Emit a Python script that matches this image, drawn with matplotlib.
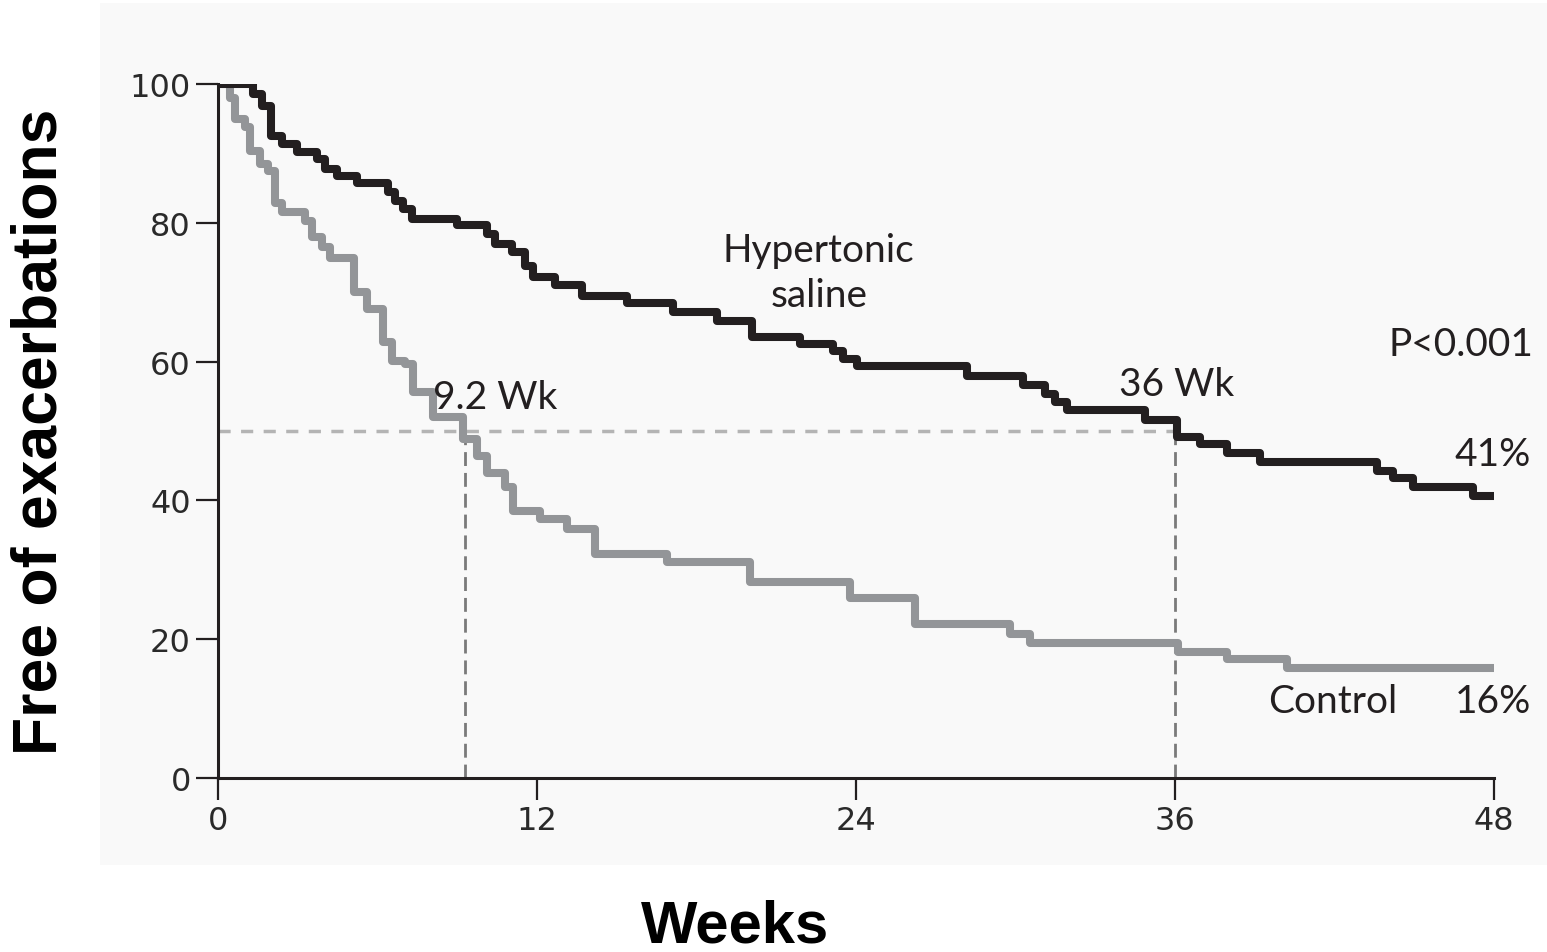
"""Kaplan-Meier style curve: time free of exacerbations, hypertonic saline vs control."""

import matplotlib
matplotlib.use("Agg")
import matplotlib.pyplot as plt
from matplotlib.patches import Rectangle

# step times (weeks) and survival (%) after each step
saline_weeks = [0, 1.32, 1.66, 1.99, 2.41, 2.97, 3.72, 4.03, 4.48, 5.23, 6.40, 6.66,
                6.96, 7.30, 8.99, 10.12, 10.42, 11.06, 11.55, 11.85, 12.68, 13.69,
                15.39, 17.12, 18.77, 20.09, 21.89, 23.13, 23.51, 24.04, 28.18, 30.28,
                31.11, 31.49, 31.94, 34.87, 36.08, 36.94, 37.96, 39.20, 43.60, 44.20,
                44.95, 47.21, 48]
saline_pct = [100, 98.6, 96.9, 92.5, 91.4, 90.2, 89.2, 87.8, 86.8, 85.8, 84.4, 83.2,
              82.0, 80.5, 79.7, 78.4, 76.9, 75.8, 73.8, 72.2, 71.0, 69.5,
              68.4, 67.2, 65.9, 63.5, 62.5, 61.5, 60.4, 59.3, 57.9, 56.7,
              55.3, 54.2, 53.0, 51.6, 49.2, 48.1, 46.8, 45.5, 44.3, 43.2,
              42.0, 40.7, 40.7]

control_weeks = [0, 0.45, 0.64, 1.02, 1.20, 1.58, 1.88, 2.14, 2.41, 3.27, 3.54, 3.91,
                 4.21, 5.12, 5.61, 6.21, 6.55, 7.03, 7.34, 8.09, 9.22, 9.74, 10.12,
                 10.80, 11.10, 12.11, 13.13, 14.18, 16.89, 20.01, 23.77, 26.22, 29.79,
                 30.55, 36.11, 37.96, 40.21, 48]
control_pct = [100, 98.0, 95.0, 93.8, 90.4, 88.5, 87.5, 82.9, 81.5, 80.3, 77.9, 76.5,
               75.0, 70.0, 67.6, 62.8, 60.1, 59.6, 55.6, 52.0, 48.8, 46.4, 44.0,
               42.0, 38.5, 37.3, 35.9, 32.3, 31.1, 28.2, 26.0, 22.2, 20.7,
               19.5, 18.1, 17.1, 15.9, 15.9]

median_control = 9.3   # labelled 9.2 Wk
median_saline = 36
x_ticks = [0, 12, 24, 36, 48]
y_ticks = [0, 20, 40, 60, 80, 100]

DARK = "#231f20"
GRAY = "#939598"
ann = dict(family=["Lato", "DejaVu Sans"], fontsize=28, color=DARK)

fig = plt.figure(figsize=(15.47, 9.53), dpi=100)
fig.patches.append(Rectangle((100 / 1547, 1 - 866 / 953), 1447 / 1547, 862 / 953,
                             transform=fig.transFigure, facecolor="#f9f9f9",
                             edgecolor="none", zorder=-5))
ax = fig.add_axes([218 / 1547, 1 - 779 / 953, 1276 / 1547, 694 / 953])
ax.set_facecolor("none")

ax.plot(control_weeks, control_pct, drawstyle="steps-post", color=GRAY, lw=5.8,
        solid_capstyle="butt", zorder=3)
ax.plot(saline_weeks, saline_pct, drawstyle="steps-post", color=DARK, lw=5.8,
        solid_capstyle="butt", zorder=4)

# median lines
ax.plot([0, median_saline], [50, 50], color="#b4b4b4", lw=2.5, dashes=(3.5, 3), zorder=2)
ax.plot([median_control, median_control], [0, 50], color="#7a7a7a", lw=2, dashes=(5, 2.5), zorder=2)
ax.plot([median_saline, median_saline], [0, 50], color="#7a7a7a", lw=2, dashes=(5, 2.5), zorder=2)

ax.text(22.6, 72.8, "Hypertonic\nsaline", ha="center", va="center", linespacing=1.32, **ann)
ax.text(49.5, 62.5, "P<0.001", ha="right", va="center", **ann)
ax.text(8.1, 54.9, "9.2 Wk", ha="left", va="center", **ann)
ax.text(33.9, 56.8, "36 Wk", ha="left", va="center", **ann)
ax.text(49.4, 46.7, "41%", ha="right", va="center", **ann)
ax.text(39.5, 11.1, "Control", ha="left", va="center", **ann)
ax.text(49.4, 11.1, "16%", ha="right", va="center", **ann)

ax.set_xlim(0, 48)
ax.set_ylim(0, 100)
ax.set_xticks(x_ticks)
ax.set_yticks(y_ticks)
for s in ["top", "right"]:
    ax.spines[s].set_visible(False)
for s in ["left", "bottom"]:
    ax.spines[s].set_linewidth(2.2)
    ax.spines[s].set_color(DARK)
ax.tick_params(direction="out", length=15.5, width=1.6, color=DARK, labelcolor="#2a2a2a",
               labelsize=23, pad=4)

fig.text(40 / 1547, 1 - 432 / 953, "Free of exacerbations", rotation=90, ha="center",
         va="center", family=["Liberation Sans", "DejaVu Sans"], fontweight="bold",
         fontsize=45, color="black")
fig.text(735 / 1547, 1 - 927 / 953, "Weeks", ha="center", va="center",
         family=["Liberation Sans", "DejaVu Sans"], fontweight="bold", fontsize=43,
         color="black")

fig.savefig("out.png", dpi=100)
plt.close(fig)
